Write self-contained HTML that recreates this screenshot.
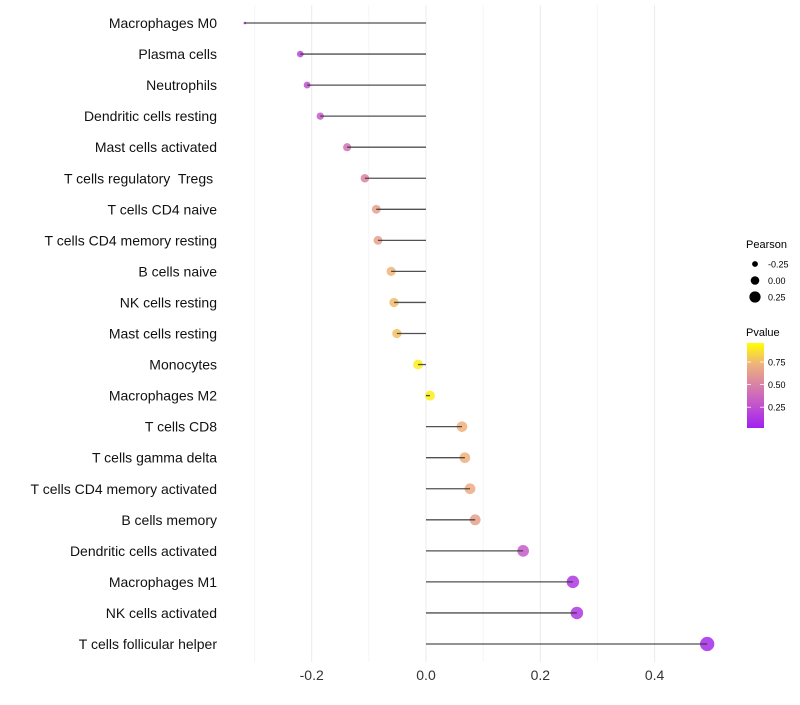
<!DOCTYPE html>
<html><head><meta charset="utf-8"><style>
body{margin:0;background:#fff;}
svg text{font-family:"Liberation Sans",sans-serif;white-space:pre;}
</style></head><body>
<svg id="chart" width="800" height="700" xmlns="http://www.w3.org/2000/svg" xml:space="preserve"></svg>
<script>
const categories=["Macrophages M0","Plasma cells","Neutrophils","Dendritic cells resting","Mast cells activated","T cells regulatory  Tregs ","T cells CD4 naive","T cells CD4 memory resting","B cells naive","NK cells resting","Mast cells resting","Monocytes","Macrophages M2","T cells CD8","T cells gamma delta","T cells CD4 memory activated","B cells memory","Dendritic cells activated","Macrophages M1","NK cells activated","T cells follicular helper"];
const pearson=[-0.317,-0.220,-0.208,-0.185,-0.138,-0.107,-0.087,-0.084,-0.061,-0.056,-0.051,-0.014,0.007,0.063,0.068,0.077,0.086,0.170,0.257,0.264,0.492];
const pvalues=[0.04,0.2,0.25,0.3,0.42,0.52,0.66,0.66,0.76,0.78,0.8,0.95,0.95,0.75,0.75,0.72,0.66,0.3,0.12,0.12,0.05];
const xTicks=[-0.2,0.0,0.2,0.4];
const xTickLabels=["-0.2","0.0","0.2","0.4"];
const xMinor=[-0.3,-0.1,0.1,0.3];
const sizeLegend=[-0.25,0.00,0.25];
const colorTicks=[0.25,0.50,0.75];

const NS="http://www.w3.org/2000/svg";
const svg=document.getElementById('chart');
function el(t,a,p){const e=document.createElementNS(NS,t);for(const k in a)e.setAttribute(k,a[k]);(p||svg).appendChild(e);return e;}
const x=v=>426+v*571.5;
const y=i=>23+i*31.05;
const pmin=Math.min(...pearson),pmax=Math.max(...pearson);
const rad=v=>1.3*(1+4.5*Math.sqrt(Math.max(0,(v-pmin)/(pmax-pmin))));
const stops=[[0,[160,32,240]],[0.25,[192,80,208]],[0.5,[216,128,168]],[0.75,[238,178,124]],[1,[255,255,0]]];
function col(p){p=Math.max(0,Math.min(1,p));for(let i=1;i<stops.length;i++){if(p<=stops[i][0]){const a=stops[i-1],b=stops[i],t=(p-a[0])/(b[0]-a[0]);return 'rgb('+a[1].map((c,j)=>Math.round(c+(b[1][j]-c)*t)).join(',')+')';}}}

const grid=el('g',{});
xMinor.forEach(v=>el('line',{x1:x(v),x2:x(v),y1:5,y2:662,stroke:'#f5f5f5','stroke-width':1},grid));
xTicks.forEach(v=>el('line',{x1:x(v),x2:x(v),y1:5,y2:662,stroke:'#ebebeb','stroke-width':1},grid));

xTicks.forEach((v,i)=>{const t=el('text',{x:x(v),y:680,'text-anchor':'middle','font-size':14,fill:'#333'});t.textContent=xTickLabels[i];

});

categories.forEach((c,i)=>{
 const t=el('text',{x:217,y:y(i)+5,'text-anchor':'end','font-size':14,fill:'#111'});t.textContent=c;
 
 
 const d=el('circle',{cx:x(pearson[i]),cy:y(i),r:rad(pearson[i]),fill:col(pvalues[i]),'fill-opacity':0.85});
 
 
 const l=el('line',{x1:x(0),x2:x(pearson[i]),y1:y(i),y2:y(i),stroke:'#333','stroke-width':1.3,'stroke-opacity':0.85});
 
 
});

const lg=el('g',{});
let t=el('text',{x:746,y:248,'font-size':11,fill:'#000'},lg);t.textContent='Pearson';
sizeLegend.forEach((v,i)=>{const cy=264+i*16.5;el('circle',{cx:755,cy:cy,r:[2.9,4.3,5.6][i],fill:'#000'},lg);
 const tt=el('text',{x:768,y:cy+3.5,'font-size':9,fill:'#000'},lg);tt.textContent=v.toFixed(2);});
t=el('text',{x:746,y:336,'font-size':11,fill:'#000'},lg);t.textContent='Pvalue';
const defs=el('defs',{},lg);const gr=el('linearGradient',{id:'pg',x1:0,y1:1,x2:0,y2:0},defs);
stops.forEach(s=>el('stop',{offset:s[0],'stop-color':'rgb('+s[1].join(',')+')'},gr));
el('rect',{x:747,y:343,width:17,height:85,fill:'url(#pg)'},lg);
colorTicks.forEach(v=>{const cy=428-(v-0.02)/0.94*85;
 el('line',{x1:747,x2:751,y1:cy,y2:cy,stroke:'#fff','stroke-width':0.8},lg);el('line',{x1:760,x2:764,y1:cy,y2:cy,stroke:'#fff','stroke-width':0.8},lg);
 const tt=el('text',{x:768,y:cy+3.5,'font-size':9,fill:'#000'},lg);tt.textContent=v.toFixed(2);});
</script>
</body></html>
